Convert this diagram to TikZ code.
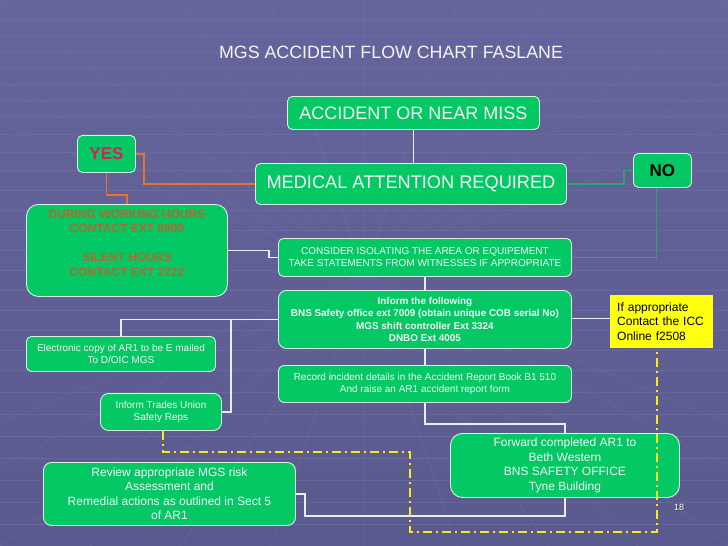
\documentclass[tikz,border=0pt]{standalone}
\usepackage{fontspec}
\setmainfont{Liberation Sans}
\usetikzlibrary{calc}
\definecolor{bgtop}{HTML}{65659D}
\definecolor{bgbot}{HTML}{5A5A8E}
\definecolor{gridln}{HTML}{8484B6}
\definecolor{boxgreen}{HTML}{04C864}
\definecolor{boxedge}{HTML}{D6F3E2}
\definecolor{txtwhite}{HTML}{F4F4F4}
\definecolor{orangeln}{HTML}{E8742C}
\definecolor{greenln}{HTML}{2FA472}
\definecolor{whiteln}{HTML}{ECECF4}
\definecolor{yellowln}{HTML}{FFE81C}
\definecolor{yesred}{HTML}{D81E5B}
\definecolor{durtxt}{HTML}{B0692E}
\definecolor{yelbox}{HTML}{FFFF10}
\begin{document}
\begin{tikzpicture}[x=1pt,y=-1pt,
  gbox/.style={draw=boxedge, line width=0.9pt, fill=boxgreen, rounded corners=#1,
    text=txtwhite, inner sep=0pt, align=center, anchor=north west},
  gbox/.default=5pt,
  wline/.style={draw=whiteln, line width=1.6pt},
  oline/.style={draw=orangeln, line width=1.8pt},
  gline/.style={draw=greenln, line width=1.8pt},
  yline/.style={draw=yellowln, line width=1.8pt, dash pattern=on 9pt off 4pt on 2pt off 4pt},
  fsmall/.style={font=\fontsize{10}{12}\selectfont},
  fmid/.style={font=\fontsize{12}{14.5}\selectfont},
  gridstyle/.style={draw=gridln, line width=1pt, opacity=0.28},
]
\useasboundingbox (0,0) rectangle (728,546);
\shade[top color=bgtop, bottom color=bgbot] (0,0) rectangle (728,546);
% faint background grid
\foreach \yy in {20,36,52,68,84,100,116,134,152,170,190,210,230,250,270,290,310,330,350,370,392,414,436,458,480,502,524}
  \draw[gridstyle] (0,\yy) -- (728,\yy);
\foreach \xx in {-300,-150,0,90,180,270,364,458,548,638,728,878,1028}
  \draw[gridstyle, opacity=0.18] (364,273) -- ($(364,273)!2.2!(\xx,0)$);
\foreach \xx in {-300,-150,0,90,180,270,364,458,548,638,728,878,1028}
  \draw[gridstyle, opacity=0.18] (364,273) -- ($(364,273)!2.2!(\xx,546)$);

% title
\node[font=\fontsize{17.8}{20}\selectfont, text=txtwhite] (title) at (391,52) {MGS ACCIDENT FLOW CHART FASLANE};

% boxes
\node[gbox, minimum width=252pt, minimum height=33pt, font=\fontsize{18}{20}\selectfont] (acc) at (287,96) {ACCIDENT OR NEAR MISS};
\node[gbox, minimum width=58pt, minimum height=37pt, text=yesred, font=\fontsize{17}{20}\selectfont\bfseries] (yes) at (77,135) {YES};
\node[gbox, minimum width=311pt, minimum height=41pt, font=\fontsize{18.2}{21}\selectfont] (med) at (255,163) {MEDICAL ATTENTION REQUIRED};
\node[gbox, minimum width=58pt, minimum height=34pt, text=black, font=\fontsize{17}{20}\selectfont\bfseries] (no) at (633,153) {NO};
\node[gbox=12pt, minimum width=201pt, minimum height=92pt] (dur) at (26,204) {};
\node[text=durtxt, align=center, font=\fontsize{12}{14.5}\selectfont\bfseries, inner sep=0pt] (durtext) at ($(dur.center)+(0,-7.5)$)
  {DURING WORKING HOURS\\CONTACT EXT 6800\\[14.5pt]SILENT HOURS\\CONTACT EXT 2222};
\node[gbox, minimum width=293pt, minimum height=38pt, fsmall] (con) at (278,238)
  {CONSIDER ISOLATING THE AREA OR EQUIPEMENT\\TAKE STATEMENTS FROM WITNESSES IF APPROPRIATE};
\node[gbox=8pt, minimum width=293pt, minimum height=58pt, font=\fontsize{9.9}{12.3}\selectfont\bfseries] (inf) at (278,290)
  {Inform the following\\BNS Safety office ext 7009 (obtain unique COB serial No)\\MGS shift controller Ext 3324\\DNBO Ext 4005};
\node[draw=none, fill=yelbox, anchor=north west, text width=89pt, inner xsep=7pt, inner ysep=0pt,
  minimum height=53pt, align=left, text=black, fmid] (yel) at (610,295)
  {If appropriate\\Contact the ICC\\Online f2508};
\node[gbox=6pt, minimum width=293pt, minimum height=37pt, fsmall] (rec) at (278,365)
  {Record incident details in the Accident Report Book B1 510\\And raise an AR1 accident report form};
\node[gbox, minimum width=189pt, minimum height=35pt, fsmall] (ele) at (26,336)
  {Electronic copy of AR1 to be E mailed\\To D/OIC MGS};
\node[gbox=8pt, minimum width=121pt, minimum height=37pt, fsmall] (tu) at (100,393)
  {Inform Trades Union\\Safety Reps};
\node[gbox=8pt, minimum width=252pt, minimum height=63pt, fmid] (rev) at (43,462)
  {Review appropriate MGS risk\\Assessment and\\Remedial actions as outlined in Sect 5\\of AR1};
\node[gbox=12pt, minimum width=229pt, minimum height=64pt, fmid] (fwd) at (450,433)
  {Forward completed AR1 to\\Beth Western\\BNS SAFETY OFFICE\\Tyne Building};

% connectors
\draw[wline] (acc.south) -- (acc.south |- med.north);
\draw[oline] (yes.east) -- ++(8,0) |- (med.west);
\draw[oline] (yes.south) |- ([yshift=9pt]dur.north) -- (dur.north);
\draw[gline] (med.east) -| ([xshift=-9pt]no.west) -- (no.west);
\draw[gline] ([xshift=-6pt]no.south) |- (con.east);
\draw[wline] (dur.east) -| ([xshift=-9pt]con.west) -- (con.west);
\draw[wline] (con.south) -- (inf.north);
\draw[wline] (inf.south) -- (rec.north);
\draw[wline] (inf.west) -| (ele.north);
\draw[wline] (tu.east) -- ++(9,0) |- (inf.west);
\draw[draw=whiteln, line width=0.9pt] ([yshift=1pt]inf.east) -- ([yshift=1pt]inf.east -| yel.west);
\draw[wline] (rec.south) |- ([yshift=9pt]fwd.north) -- (fwd.north);
\draw[wline] (fwd.south) -- ++(0,18) -| ([xshift=9pt]rev.east) -- (rev.east);
\draw[yline] ([xshift=2pt]tu.south) -- ++(0,21) -- ++(247,0) -- ++(0,80) -| ([xshift=-5pt]yel.south);

% page number
\node[font=\fontsize{9}{10}\selectfont, text=black!75] (pgs) at (680,508) {18};
\node[font=\fontsize{9}{10}\selectfont, text=white] (pg) at (679,507) {18};
\end{tikzpicture}
\end{document}
